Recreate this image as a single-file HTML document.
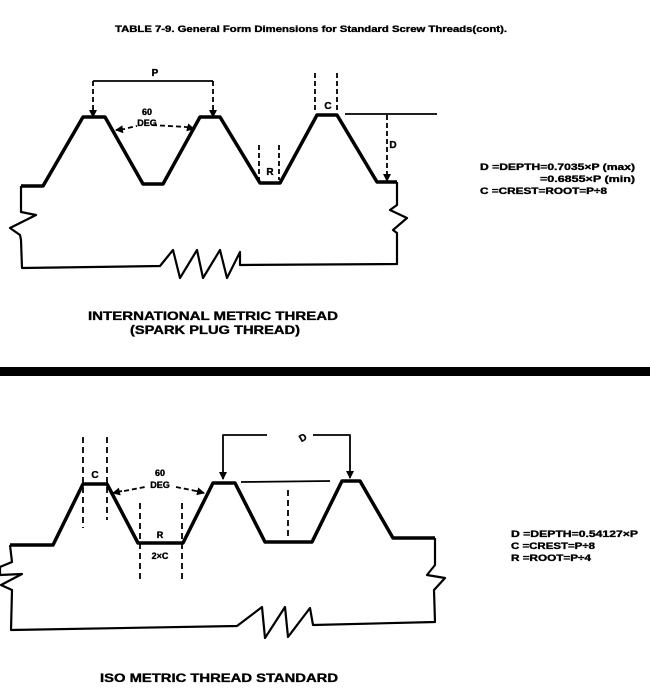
<!DOCTYPE html>
<html><head><meta charset="utf-8"><style>
html,body{margin:0;padding:0;background:#fff;}
svg{display:block;}
text{font-family:"Liberation Sans",sans-serif;font-weight:bold;fill:#000;stroke:#000;stroke-width:0.35;}
</style></head><body>
<svg width="650" height="694" viewBox="0 0 650 694" xmlns="http://www.w3.org/2000/svg">
<defs>
<marker id="ar" markerWidth="8" markerHeight="8" refX="7" refY="4" orient="auto" markerUnits="userSpaceOnUse"><path d="M0,0 L8,4 L0,8 z" fill="#000"/></marker>
</defs>
<text x="115" y="32" font-size="9" textLength="392" lengthAdjust="spacingAndGlyphs">TABLE  7-9. General Form Dimensions for Standard Screw Threads(cont).</text>

<!-- TOP profile -->
<g fill="none" stroke="#000" stroke-linejoin="round">
<polyline stroke-width="3.5" points="21,186 43,186 83,117 105,117 143,184 163,184 200,117 220,117 260,183 280,183 317,115 337,115 377,182 397,182"/>
<polyline stroke-width="2.2" points="21,186 21,212 36,215 10,228 20,235 21,240 22,268 160,266 173,250 180,278 197,250 203,278 220,250 227,278 240,252 240,265 397,264 397,233 393,230 407,218 390,210 397,205 397,182"/>
<line x1="93" y1="81" x2="213" y2="81" stroke-width="1.8"/>
<line x1="93" y1="81" x2="93" y2="117" stroke-width="1.8" stroke-dasharray="5,3" marker-end="url(#ar)"/>
<line x1="213" y1="81" x2="213" y2="117" stroke-width="1.8" stroke-dasharray="5,3" marker-end="url(#ar)"/>
<path d="M128,128 L137,126 M152,125 L186,127" stroke-width="1.8" stroke-dasharray="5,3"/>
<line x1="125" y1="129" x2="116" y2="130" stroke-width="1.8" marker-end="url(#ar)"/>
<line x1="186" y1="127" x2="194" y2="129" stroke-width="1.8" marker-end="url(#ar)"/>
<line x1="315" y1="73" x2="315" y2="113" stroke-width="1.8" stroke-dasharray="5,3"/>
<line x1="337" y1="73" x2="337" y2="113" stroke-width="1.8" stroke-dasharray="5,3"/>
<line x1="345" y1="114" x2="437" y2="114" stroke-width="1.8"/>
<line x1="387" y1="115" x2="387" y2="181" stroke-width="1.8" stroke-dasharray="5,3" marker-end="url(#ar)"/>
<line x1="259" y1="145" x2="259" y2="180" stroke-width="1.8" stroke-dasharray="5,3"/>
<line x1="279" y1="145" x2="279" y2="180" stroke-width="1.8" stroke-dasharray="5,3"/>
</g>
<text x="155" y="76" font-size="10" text-anchor="middle">P</text>
<text x="147" y="115" font-size="9" text-anchor="middle">60</text>
<text x="147" y="126" font-size="9" text-anchor="middle">DEG</text>
<text x="328" y="109" font-size="10" text-anchor="middle">C</text>
<text x="393" y="148" font-size="10" text-anchor="middle">D</text>
<text x="270" y="175" font-size="10" text-anchor="middle">R</text>
<text x="480" y="170" font-size="9" textLength="155" lengthAdjust="spacingAndGlyphs">D =DEPTH=0.7035×P (max)</text>
<text x="540" y="182" font-size="9" textLength="95" lengthAdjust="spacingAndGlyphs">=0.6855×P (min)</text>
<text x="480" y="194" font-size="9" textLength="127" lengthAdjust="spacingAndGlyphs">C =CREST=ROOT=P÷8</text>
<text x="88" y="320" font-size="12" textLength="250" lengthAdjust="spacingAndGlyphs">INTERNATIONAL METRIC THREAD</text>
<text x="130" y="334" font-size="12" textLength="170" lengthAdjust="spacingAndGlyphs">(SPARK PLUG THREAD)</text>
<rect x="0" y="367" width="650" height="9" fill="#000"/>

<!-- BOTTOM profile -->
<g fill="none" stroke="#000" stroke-linejoin="round">
<polyline stroke-width="3.5" points="10,545 53,545 83,484 107,484 138,543 183,543 213,483 235,483 265,542 312,542 342,481 360,481 393,538 435,538"/>
<polyline stroke-width="2.2" points="10,545 12,562 0,567 0,575 22,574 1,585 12,590 11,630 237,626 262,607 265,638 285,607 288,637 310,608 313,625 435,622 434,590 445,578 427,575 435,565 435,538"/>
<line x1="83" y1="437" x2="83" y2="528" stroke-width="1.8" stroke-dasharray="6,4"/>
<line x1="107" y1="437" x2="107" y2="520" stroke-width="1.8" stroke-dasharray="6,4"/>
<path d="M124,491 L145,487 M176,487 L196,491" stroke-width="1.8" stroke-dasharray="5,3"/>
<line x1="122" y1="491" x2="113" y2="493" stroke-width="1.8" marker-end="url(#ar)"/>
<line x1="196" y1="491" x2="204" y2="493" stroke-width="1.8" marker-end="url(#ar)"/>
<line x1="140" y1="503" x2="140" y2="580" stroke-width="1.8" stroke-dasharray="6,4"/>
<line x1="182" y1="503" x2="182" y2="582" stroke-width="1.8" stroke-dasharray="6,4"/>
<polyline points="267,435 223,435 223,479" stroke-width="1.8" marker-end="url(#ar)"/>
<polyline points="313,435 350,435 350,478" stroke-width="1.8" marker-end="url(#ar)"/>
<line x1="241" y1="482" x2="330" y2="481" stroke-width="1.8"/>
<line x1="288" y1="490" x2="288" y2="540" stroke-width="1.8" stroke-dasharray="6,4"/>
</g>
<text x="95" y="478" font-size="10" text-anchor="middle">C</text>
<text x="160" y="476" font-size="9" text-anchor="middle">60</text>
<text x="160" y="488" font-size="9" text-anchor="middle">DEG</text>
<text x="160" y="538" font-size="9" text-anchor="middle">R</text>
<text x="160" y="559" font-size="9" text-anchor="middle">2×C</text>
<text x="303" y="441" font-size="10" text-anchor="middle" transform="rotate(-30 303 438)">D</text>
<text x="511" y="537" font-size="9" textLength="127" lengthAdjust="spacingAndGlyphs">D =DEPTH=0.54127×P</text>
<text x="511" y="549" font-size="9" textLength="84" lengthAdjust="spacingAndGlyphs">C =CREST=P÷8</text>
<text x="511" y="561" font-size="9" textLength="80" lengthAdjust="spacingAndGlyphs">R =ROOT=P÷4</text>
<text x="100" y="682" font-size="12" textLength="238" lengthAdjust="spacingAndGlyphs">ISO METRIC THREAD STANDARD</text>
</svg>
</body></html>
